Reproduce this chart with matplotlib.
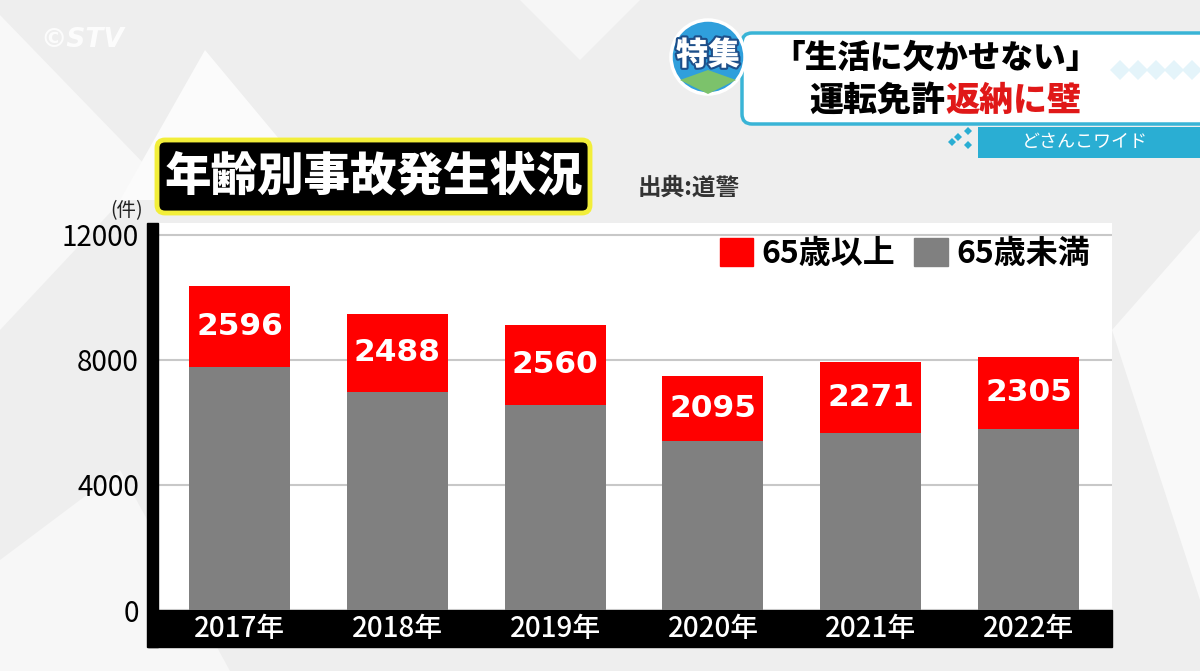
import matplotlib
matplotlib.use("Agg")
import matplotlib.pyplot as plt
import matplotlib.patheffects as pe
from matplotlib.patches import Rectangle, Polygon, FancyBboxPatch, Circle, Patch
import numpy as np

plt.rcParams["font.family"] = ["Noto Sans CJK JP", "DejaVu Sans"]

# data
years = ["2017年", "2018年", "2019年", "2020年", "2021年", "2022年"]
over65 = [2596, 2488, 2560, 2095, 2271, 2305]
under65 = [7770, 6990, 6570, 5395, 5665, 5800]
yticks = [0, 4000, 8000, 12000]

RED = "#ff0000"
GRAY = "#808080"

fig = plt.figure(figsize=(12, 6.71), dpi=100, facecolor="#eeeeee")

# background layer in pixel coords (0..1200, 0..671, y down)
bg = fig.add_axes([0, 0, 1, 1], zorder=0)
bg.set_xlim(0, 1200)
bg.set_ylim(671, 0)
bg.axis("off")
for pts, c in [
    ([(0, 15), (150, 170), (0, 330)], "#f8f8f8"),
    ([(120, 200), (205, 50), (330, 200)], "#fbfbfb"),
    ([(0, 560), (120, 470), (230, 671), (0, 671)], "#f7f7f7"),
    ([(1112, 330), (1200, 230), (1200, 600)], "#f9f9f9"),
    ([(520, 0), (640, 0), (580, 60)], "#f6f6f6"),
]:
    bg.add_patch(Polygon(pts, closed=True, color=c, lw=0))

bg.text(40, 40, "©STV", color="white", fontsize=19, style="italic",
        fontweight="bold", va="center", family="DejaVu Sans", alpha=0.85)

# title box
bg.add_patch(FancyBboxPatch((157, 140), 433, 73, boxstyle="round,pad=0,rounding_size=8",
                            fc="black", ec="#f2ee3a", lw=3.5))
bg.text(374, 177, "年齢別事故発生状況", color="white", fontsize=33.5,
        fontweight="black", ha="center", va="center")
bg.text(638, 188, "出典:道警", color="#333333", fontsize=17,
        fontweight="bold", ha="left", va="center")
bg.text(127, 211, "(件)", color="#222222", fontsize=14, ha="center", va="center")

# banner top right
bg.add_patch(FancyBboxPatch((742, 33), 480, 91, boxstyle="round,pad=0,rounding_size=10",
                            fc="white", ec="#39b4d6", lw=2.5))
for k in range(6):
    bg.add_patch(Polygon([(1110 + k * 18, 70), (1120 + k * 18, 60), (1130 + k * 18, 70),
                          (1120 + k * 18, 80)], color="#e4f4fa", lw=0))
bg.add_patch(Rectangle((978, 127), 230, 31, color="#2aaed3", lw=0))
bg.text(1085, 142, "どさんこワイド", color="white", fontsize=13, ha="center", va="center")
for dx, dy in [(958, 137), (968, 131), (968, 145), (952, 142)]:
    bg.add_patch(Polygon([(dx, dy - 4), (dx + 4, dy), (dx, dy + 4), (dx - 4, dy)],
                         color="#2aaed3", lw=0))
bg.add_patch(Circle((708, 57), 37, fc="#2f9fdc", ec="white", lw=2.5))
bg.add_patch(Polygon([(680, 80), (708, 94), (736, 80), (708, 70)], color="#7cc26b", lw=0))
bg.text(708, 55, "特集", color="white", fontsize=23, fontweight="black", ha="center",
        va="center", path_effects=[pe.withStroke(linewidth=3, foreground="#1d4f8a")])
bg.text(935, 58, "「生活に欠かせない」", color="black", fontsize=23.5,
        fontweight="black", ha="center", va="center")
bg.text(945, 100, "運転免許", color="black", fontsize=24.5,
        fontweight="black", ha="right", va="center")
bg.text(945, 100, "返納に壁", color="#e01818", fontsize=24.5,
        fontweight="black", ha="left", va="center")

# chart
ax = fig.add_axes([157 / 1200, 1 - 610 / 671, 955 / 1200, 387 / 671], zorder=2)
ax.set_facecolor("white")
x = np.arange(len(years))
ax.bar(x, under65, width=0.64, color=GRAY, zorder=2)
ax.bar(x, over65, width=0.64, bottom=under65, color=RED, zorder=2)
for xi, u, o in zip(x, under65, over65):
    ax.text(xi, u + o / 2, str(o), color="white", fontsize=22.5, fontweight="bold",
            ha="center", va="center", family="DejaVu Sans", zorder=3)

ax.set_xlim(-0.523, 5.529)
ax.set_ylim(0, 12384)
ax.set_yticks(yticks)
ax.set_yticklabels([str(v) for v in yticks], fontsize=20)
ax.set_xticks(x)
ax.set_xticklabels(years, fontsize=20, color="white", fontweight="medium")
ax.tick_params(axis="y", length=0, pad=13)
ax.tick_params(axis="x", length=0, pad=3)
ax.yaxis.grid(True, color="#c8c8c8", lw=1.5, zorder=0)
ax.set_axisbelow(True)
for s in ax.spines.values():
    s.set_visible(False)

# black band under the bars and thick y axis
ax.add_patch(Rectangle((-0.0094, -0.0956), 1.0094, 0.0956, transform=ax.transAxes,
                       color="black", clip_on=False, zorder=0.5))
ax.add_patch(Rectangle((-0.0105, -0.0956), 0.0115, 1.0956, transform=ax.transAxes,
                       color="black", clip_on=False, zorder=5))

handles = [Patch(color=RED, label="65歳以上"), Patch(color=GRAY, label="65歳未満")]
ax.legend(handles=handles, loc="upper right", bbox_to_anchor=(1.0, 1.02), ncol=2,
          frameon=False, prop={"size": 23, "weight": "bold"}, handlelength=1.05,
          handleheight=1.0, handletextpad=0.25, columnspacing=0.6, borderaxespad=0.3)

fig.savefig("out.png", dpi=100, facecolor=fig.get_facecolor())
